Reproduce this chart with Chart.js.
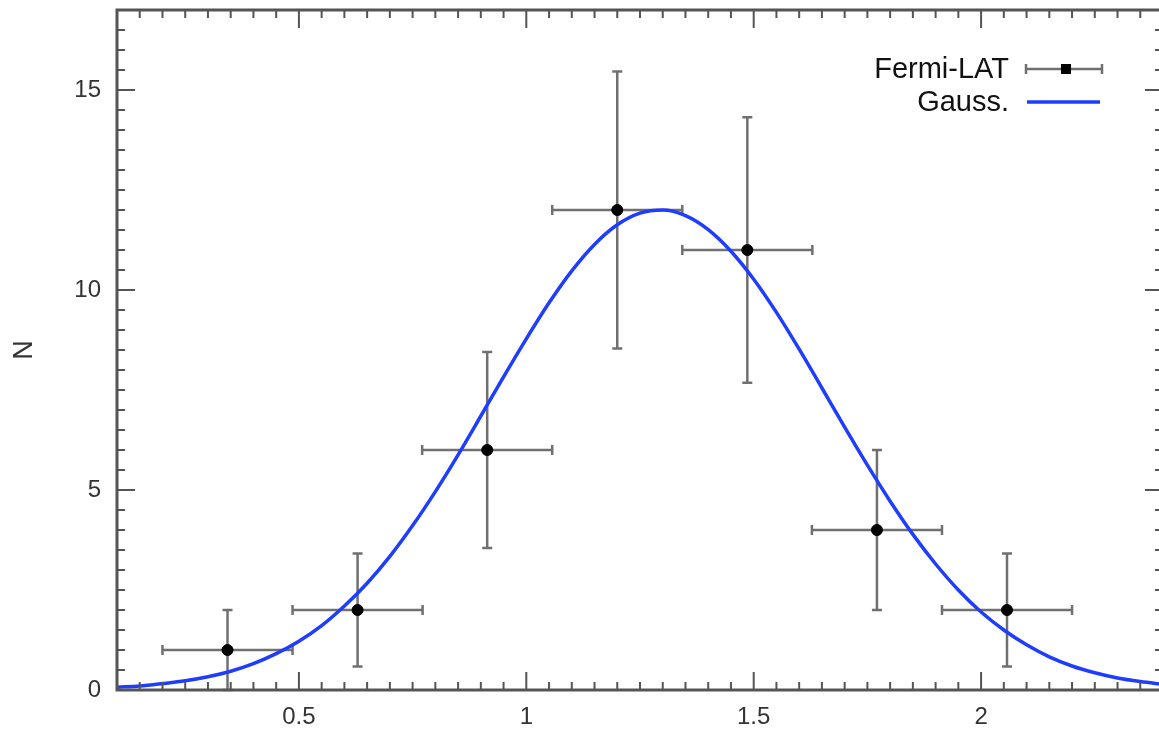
<!DOCTYPE html>
<html lang="en">
<head>
  <meta charset="UTF-8">
  <title>Fermi-LAT N</title>
  <script src="https://cdn.jsdelivr.net/npm/chart.js"></script>
  <style>
    html, body { margin: 0; padding: 0; background: #fff; overflow: hidden; }
  </style>
</head>
<body>
  <canvas id="histChart" width="1170" height="736"></canvas>
  <script>
    // measured points (bin centres, counts, errors)
    const binCenters = [0.343, 0.629, 0.914, 1.2, 1.486, 1.771, 2.057];
    const counts = [1, 2, 6, 12, 11, 4, 2];
    const countErr = [1, 1.41, 2.45, 3.46, 3.32, 2, 1.41];
    const binHalfWidth = [0.143, 0.143, 0.143, 0.143, 0.143, 0.143, 0.143];

    // gaussian curve
    const gaussX = [0.1, 0.15, 0.2, 0.25, 0.3, 0.35, 0.4, 0.45, 0.5, 0.55, 0.6, 0.65, 0.7, 0.75, 0.8, 0.85,
      0.9, 0.95, 1.0, 1.05, 1.1, 1.15, 1.2, 1.25, 1.3, 1.35, 1.4, 1.45, 1.5, 1.55, 1.6, 1.65, 1.7,
      1.75, 1.8, 1.85, 1.9, 1.95, 2.0, 2.05, 2.1, 2.15, 2.2, 2.25, 2.3, 2.35, 2.4];
    const gaussY = [0.07, 0.10, 0.16, 0.23, 0.33, 0.47, 0.66, 0.91, 1.22, 1.61, 2.10, 2.67, 3.34, 4.11, 4.96, 5.88,
      6.85, 7.83, 8.78, 9.68, 10.48, 11.14, 11.63, 11.92, 12.0, 11.86, 11.51, 10.97, 10.27, 9.44, 8.52, 7.55, 6.57,
      5.62, 4.72, 3.89, 3.15, 2.50, 1.95, 1.50, 1.13, 0.83, 0.60, 0.43, 0.30, 0.21, 0.14];

    const xTicks = [0.5, 1, 1.5, 2];
    const yTicks = [0, 5, 10, 15];

    const axisColor = '#555';
    const errColor = '#707070';
    const blue = '#1f3dff';

    // gray error bars with caps, under the markers
    const errorBars = {
      id: 'errorBars',
      beforeDatasetsDraw(chart) {
        const ctx = chart.ctx;
        const xs = chart.scales.x, ys = chart.scales.y;
        ctx.save();
        ctx.strokeStyle = errColor;
        ctx.lineWidth = 2.5;
        const cap = 5;
        for (let i = 0; i < counts.length; i++) {
          const x0 = xs.getPixelForValue(binCenters[i] - binHalfWidth[i]);
          const x1 = xs.getPixelForValue(binCenters[i] + binHalfWidth[i]);
          const xc = xs.getPixelForValue(binCenters[i]);
          const yc = ys.getPixelForValue(counts[i]);
          const y0 = ys.getPixelForValue(counts[i] - countErr[i]);
          const y1 = ys.getPixelForValue(counts[i] + countErr[i]);
          ctx.beginPath();
          ctx.moveTo(x0, yc); ctx.lineTo(x1, yc);
          ctx.moveTo(x0, yc - cap); ctx.lineTo(x0, yc + cap);
          ctx.moveTo(x1, yc - cap); ctx.lineTo(x1, yc + cap);
          ctx.moveTo(xc, y0); ctx.lineTo(xc, y1);
          ctx.moveTo(xc - cap, y0); ctx.lineTo(xc + cap, y0);
          ctx.moveTo(xc - cap, y1); ctx.lineTo(xc + cap, y1);
          ctx.stroke();
        }
        ctx.restore();
      }
    };

    // box frame with inward ticks on all four sides + legend
    const frame = {
      id: 'frame',
      afterDraw(chart) {
        const ctx = chart.ctx;
        const a = chart.chartArea;
        const xs = chart.scales.x, ys = chart.scales.y;
        ctx.save();
        ctx.strokeStyle = axisColor;
        ctx.lineWidth = 2;
        ctx.beginPath();
        for (let k = 0; k <= 46; k++) {
          const v = 0.1 + k * 0.05;
          const px = xs.getPixelForValue(v);
          const len = (Math.round(v * 100) % 50 === 0) ? 18 : 8;
          ctx.moveTo(px, a.bottom); ctx.lineTo(px, a.bottom - len);
          ctx.moveTo(px, a.top); ctx.lineTo(px, a.top + len);
        }
        for (let k = 0; k <= 34; k++) {
          const v = k * 0.5;
          const py = ys.getPixelForValue(v);
          const len = (k % 10 === 0) ? 18 : 8;
          ctx.moveTo(a.left, py); ctx.lineTo(a.left + len, py);
          ctx.moveTo(a.right, py); ctx.lineTo(a.right - len, py);
        }
        ctx.stroke();
        ctx.lineWidth = 3;
        ctx.strokeRect(a.left, a.top, a.right - a.left, a.bottom - a.top);

        // legend
        ctx.fillStyle = '#111';
        ctx.font = '29px "Liberation Sans", Arial, sans-serif';
        ctx.textAlign = 'right';
        ctx.textBaseline = 'middle';
        ctx.fillText('Fermi-LAT', 1009, 70);
        ctx.fillText('Gauss.', 1009, 103);

        ctx.strokeStyle = errColor;
        ctx.lineWidth = 2.5;
        ctx.beginPath();
        ctx.moveTo(1026, 69); ctx.lineTo(1102, 69);
        ctx.moveTo(1026, 64); ctx.lineTo(1026, 74);
        ctx.moveTo(1102, 64); ctx.lineTo(1102, 74);
        ctx.stroke();
        ctx.fillStyle = '#000';
        ctx.fillRect(1061, 64, 10, 10);

        ctx.strokeStyle = blue;
        ctx.lineWidth = 3.5;
        ctx.beginPath();
        ctx.moveTo(1027, 102); ctx.lineTo(1100, 102);
        ctx.stroke();
        ctx.restore();
      }
    };

    const tickFont = { family: '"Liberation Sans", Arial, sans-serif', size: 24 };

    new Chart(document.getElementById('histChart').getContext('2d'), {
      type: 'scatter',
      data: {
        datasets: [
          {
            label: 'Fermi-LAT',
            data: binCenters.map((x, i) => ({ x: x, y: counts[i] })),
            backgroundColor: '#000',
            borderColor: '#000',
            pointRadius: 5.5,
            pointHoverRadius: 5.5,
            showLine: false,
            order: 0
          },
          {
            label: 'Gauss.',
            data: gaussX.map((x, i) => ({ x: x, y: gaussY[i] })),
            borderColor: blue,
            borderWidth: 3.5,
            pointRadius: 0,
            showLine: true,
            cubicInterpolationMode: 'monotone',
            order: 1
          }
        ]
      },
      options: {
        responsive: false,
        animation: false,
        events: [],
        layout: { padding: { top: 10, right: 7, left: 0, bottom: 0 } },
        plugins: {
          legend: { display: false },
          tooltip: { enabled: false }
        },
        scales: {
          x: {
            type: 'linear',
            min: 0.1,
            max: 2.4,
            grid: { display: false, drawTicks: false },
            border: { display: false },
            afterBuildTicks: s => { s.ticks = xTicks.map(v => ({ value: v })); },
            afterFit: s => { s.height = 46; s.paddingLeft = 0; s.paddingRight = 0; },
            ticks: {
              autoSkip: false,
              maxRotation: 0,
              padding: 13,
              color: '#333',
              font: tickFont,
              callback: v => String(v)
            }
          },
          y: {
            type: 'linear',
            min: 0,
            max: 17,
            grid: { display: false, drawTicks: false },
            border: { display: false },
            afterBuildTicks: s => { s.ticks = yTicks.map(v => ({ value: v })); },
            afterFit: s => { s.width = 117; s.paddingTop = 0; s.paddingBottom = 0; },
            title: {
              display: true,
              text: 'N',
              color: '#333',
              font: { family: '"Liberation Sans", Arial, sans-serif', size: 27 },
              padding: { top: 8, bottom: 0 }
            },
            ticks: {
              padding: 16,
              color: '#333',
              font: tickFont,
              callback: v => String(v)
            }
          }
        }
      },
      plugins: [errorBars, frame]
    });
  </script>
</body>
</html>
